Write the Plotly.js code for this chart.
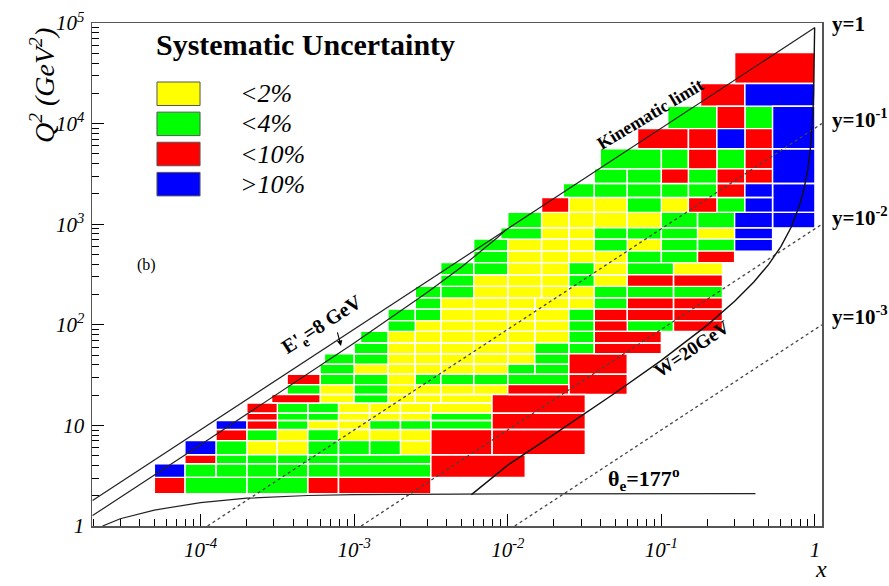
<!DOCTYPE html>
<html>
<head>
<meta charset="utf-8">
<script src="https://cdn.plot.ly/plotly-3.0.1.min.js"></script>
<style>
  html, body { margin: 0; padding: 0; background: #ffffff; }
  #chart { width: 889px; height: 586px; }
</style>
</head>
<body>
<div id="chart"></div>
<script>
// Uncertainty classes and their fill colours
const levelNames  = ['&lt;2%', '&lt;4%', '&lt;10%', '&gt;10%'];
const levelColors = ['#ffff00', '#00ff00', '#ff0000', '#0000ff'];
const Y = 0, G = 1, R = 2, B = 3;

// Q^2 bin boundaries (GeV^2)
const q2Edges = [2.1, 3.04, 4.15, 5.1, 7.05, 9.1, 11.2, 13.2, 16.7, 20.3,
                 25.4, 32.2, 40.5, 51.5, 66, 86, 110, 143, 185, 241,
                 314, 415, 540, 711, 920, 1310, 1840, 2540, 3550, 5630,
                 8920, 14900, 25000, 50800];

// Measurement cells: [x low, x high, lower Q2 edge index, upper Q2 edge index, class]
const cells = [
  // Q2 2.1 - 3.0
  [5.0e-5, 7.9e-5, 0, 1, R], [7.9e-5, 2.0e-4, 0, 1, G], [2.0e-4, 5.0e-4, 0, 1, G],
  [5.0e-4, 7.9e-4, 0, 1, R], [7.9e-4, 3.16e-3, 0, 1, R],
  // 3.0 - 4.2
  [5.0e-5, 7.9e-5, 1, 2, B], [7.9e-5, 1.26e-4, 1, 2, G], [1.26e-4, 2.0e-4, 1, 2, G],
  [2.0e-4, 3.16e-4, 1, 2, G], [3.16e-4, 5.0e-4, 1, 2, G], [5.0e-4, 7.9e-4, 1, 2, G],
  [7.9e-4, 3.16e-3, 1, 2, G], [3.16e-3, 1.3e-2, 1, 3, R],
  // 4.2 - 5.1
  [7.9e-5, 1.26e-4, 2, 3, R], [1.26e-4, 2.0e-4, 2, 3, G], [2.0e-4, 3.16e-4, 2, 3, G],
  [3.16e-4, 5.0e-4, 2, 3, G], [5.0e-4, 7.9e-4, 2, 3, G], [7.9e-4, 3.16e-3, 2, 3, G],
  // 5.1 - 7
  [7.9e-5, 1.26e-4, 3, 4, B], [1.26e-4, 2.0e-4, 3, 4, G], [2.0e-4, 3.16e-4, 3, 4, Y],
  [3.16e-4, 5.0e-4, 3, 4, Y], [5.0e-4, 7.9e-4, 3, 4, G], [7.9e-4, 1.26e-3, 3, 4, G],
  [1.26e-3, 2.0e-3, 3, 4, G], [2.0e-3, 3.16e-3, 3, 4, Y], [3.16e-3, 7.9e-3, 3, 5, R],
  [7.9e-3, 3.2e-2, 3, 5, R],
  // 7 - 9
  [1.26e-4, 2.0e-4, 4, 5, R], [2.0e-4, 3.16e-4, 4, 5, G], [3.16e-4, 5.0e-4, 4, 5, Y],
  [5.0e-4, 7.9e-4, 4, 5, G], [7.9e-4, 1.26e-3, 4, 5, Y], [1.26e-3, 2.0e-3, 4, 5, Y],
  [2.0e-3, 3.16e-3, 4, 5, Y],
  // 9 - 11
  [1.26e-4, 2.0e-4, 5, 6, B], [2.0e-4, 3.16e-4, 5, 6, R], [3.16e-4, 5.0e-4, 5, 6, G],
  [5.0e-4, 7.9e-4, 5, 6, Y], [7.9e-4, 1.26e-3, 5, 6, Y], [1.26e-3, 2.0e-3, 5, 6, G],
  [2.0e-3, 3.16e-3, 5, 6, G], [3.16e-3, 7.9e-3, 5, 6, G], [7.9e-3, 3.2e-2, 5, 7, R],
  // 11 - 13
  [2.0e-4, 3.16e-4, 6, 7, R], [3.16e-4, 5.0e-4, 6, 7, G], [5.0e-4, 7.9e-4, 6, 7, G],
  [7.9e-4, 1.26e-3, 6, 7, Y], [1.26e-3, 2.0e-3, 6, 7, Y], [2.0e-3, 3.16e-3, 6, 7, Y],
  [3.16e-3, 7.9e-3, 6, 7, G],
  // 13 - 17
  [2.0e-4, 3.16e-4, 7, 8, R], [3.16e-4, 5.0e-4, 7, 8, G], [5.0e-4, 7.9e-4, 7, 8, G],
  [7.9e-4, 1.26e-3, 7, 8, Y], [1.26e-3, 2.0e-3, 7, 8, Y], [2.0e-3, 3.16e-3, 7, 8, Y],
  [3.16e-3, 7.9e-3, 7, 8, Y], [7.9e-3, 3.2e-2, 7, 9, R],
  // 17 - 20
  [2.9e-4, 6.0e-4, 8, 9, R], [6.0e-4, 1.0e-3, 8, 9, Y], [1.0e-3, 1.66e-3, 8, 9, G],
  [1.66e-3, 2.5e-3, 8, 9, Y], [2.5e-3, 3.66e-3, 8, 9, Y], [3.66e-3, 7.9e-3, 8, 9, Y],
  // 20 - 25
  [3.66e-4, 6.0e-4, 9, 10, G], [6.0e-4, 1.0e-3, 9, 10, Y], [1.0e-3, 1.66e-3, 9, 10, G],
  [1.66e-3, 2.5e-3, 9, 10, Y], [2.5e-3, 3.66e-3, 9, 10, Y], [3.66e-3, 6.0e-3, 9, 10, Y],
  [6.0e-3, 1.0e-2, 9, 10, Y], [1.0e-2, 2.5e-2, 9, 10, R], [2.5e-2, 6.0e-2, 9, 11, R],
  // 25 - 32
  [3.66e-4, 6.0e-4, 10, 11, R], [6.0e-4, 1.0e-3, 10, 11, G], [1.0e-3, 1.66e-3, 10, 11, G],
  [1.66e-3, 2.5e-3, 10, 11, Y], [2.5e-3, 3.66e-3, 10, 11, G], [3.66e-3, 6.0e-3, 10, 11, G],
  [6.0e-3, 1.0e-2, 10, 11, G], [1.0e-2, 2.5e-2, 10, 11, G],
  // 32 - 40
  [6.0e-4, 1.0e-3, 11, 12, G], [1.0e-3, 1.66e-3, 11, 12, Y], [1.66e-3, 2.5e-3, 11, 12, Y],
  [2.5e-3, 3.66e-3, 11, 12, Y], [3.66e-3, 6.0e-3, 11, 12, Y], [6.0e-3, 1.0e-2, 11, 12, Y],
  [1.0e-2, 1.5e-2, 11, 12, G], [1.5e-2, 2.5e-2, 11, 12, G], [2.5e-2, 6.0e-2, 11, 13, R],
  // 40 - 51
  [6.4e-4, 1.0e-3, 12, 13, G], [1.0e-3, 1.66e-3, 12, 13, G], [1.66e-3, 2.5e-3, 12, 13, Y],
  [2.5e-3, 3.66e-3, 12, 13, Y], [3.66e-3, 6.0e-3, 12, 13, Y], [6.0e-3, 1.0e-2, 12, 13, Y],
  [1.0e-2, 1.5e-2, 12, 13, Y], [1.5e-2, 2.5e-2, 12, 13, G],
  // 51 - 66
  [1.0e-3, 1.66e-3, 13, 14, G], [1.66e-3, 2.5e-3, 13, 14, Y], [2.5e-3, 3.66e-3, 13, 14, Y],
  [3.66e-3, 6.0e-3, 13, 14, Y], [6.0e-3, 1.0e-2, 13, 14, Y], [1.0e-2, 1.5e-2, 13, 14, Y],
  [1.5e-2, 2.5e-2, 13, 14, G], [2.5e-2, 3.66e-2, 13, 14, G], [3.66e-2, 0.1, 13, 14, R],
  // 66 - 86
  [1.1e-3, 1.66e-3, 14, 15, G], [1.66e-3, 2.5e-3, 14, 15, Y], [2.5e-3, 3.66e-3, 14, 15, Y],
  [3.66e-3, 6.0e-3, 14, 15, Y], [6.0e-3, 1.0e-2, 14, 15, Y], [1.0e-2, 1.5e-2, 14, 15, Y],
  [1.5e-2, 2.5e-2, 14, 15, Y], [2.5e-2, 3.66e-2, 14, 15, G], [3.66e-2, 0.1, 14, 15, R],
  // 86 - 110
  [1.66e-3, 2.5e-3, 15, 16, G], [2.5e-3, 3.66e-3, 15, 16, Y], [3.66e-3, 6.0e-3, 15, 16, Y],
  [6.0e-3, 1.0e-2, 15, 16, Y], [1.0e-2, 1.5e-2, 15, 16, Y], [1.5e-2, 2.5e-2, 15, 16, Y],
  [2.5e-2, 3.66e-2, 15, 16, G], [3.66e-2, 6.0e-2, 15, 16, R], [6.0e-2, 0.12, 15, 16, G],
  [0.12, 0.25, 15, 16, R],
  // 110 - 143
  [1.66e-3, 2.5e-3, 16, 17, G], [2.5e-3, 3.66e-3, 16, 17, G], [3.66e-3, 6.0e-3, 16, 17, Y],
  [6.0e-3, 1.0e-2, 16, 17, Y], [1.0e-2, 1.5e-2, 16, 17, Y], [1.5e-2, 2.5e-2, 16, 17, Y],
  [2.5e-2, 3.66e-2, 16, 17, G], [3.66e-2, 6.0e-2, 16, 17, R], [6.0e-2, 0.12, 16, 17, R],
  [0.12, 0.25, 16, 17, R],
  // 143 - 185
  [2.5e-3, 3.66e-3, 17, 18, G], [3.66e-3, 6.0e-3, 17, 18, Y], [6.0e-3, 1.0e-2, 17, 18, Y],
  [1.0e-2, 1.5e-2, 17, 18, Y], [1.5e-2, 2.5e-2, 17, 18, Y], [2.5e-2, 3.66e-2, 17, 18, Y],
  [3.66e-2, 6.0e-2, 17, 18, G], [6.0e-2, 0.12, 17, 18, R], [0.12, 0.25, 17, 18, R],
  // 185 - 241
  [2.5e-3, 3.66e-3, 18, 19, G], [3.66e-3, 6.0e-3, 18, 19, G], [6.0e-3, 1.0e-2, 18, 19, Y],
  [1.0e-2, 1.66e-2, 18, 19, Y], [1.66e-2, 2.5e-2, 18, 19, Y], [2.5e-2, 3.66e-2, 18, 19, Y],
  [3.66e-2, 6.0e-2, 18, 19, G], [6.0e-2, 0.12, 18, 19, G], [0.12, 0.25, 18, 19, G],
  // 241 - 314
  [3.66e-3, 6.0e-3, 19, 20, G], [6.0e-3, 1.0e-2, 19, 20, Y], [1.0e-2, 1.66e-2, 19, 20, Y],
  [1.66e-2, 2.5e-2, 19, 20, Y], [2.5e-2, 3.66e-2, 19, 20, G], [3.66e-2, 6.0e-2, 19, 20, Y],
  [6.0e-2, 0.12, 19, 20, R], [0.12, 0.25, 19, 20, R],
  // 314 - 415
  [3.66e-3, 6.0e-3, 20, 21, G], [6.0e-3, 1.0e-2, 20, 21, G], [1.0e-2, 1.66e-2, 20, 21, Y],
  [1.66e-2, 2.5e-2, 20, 21, Y], [2.5e-2, 3.66e-2, 20, 21, G], [3.66e-2, 6.0e-2, 20, 21, Y],
  [6.0e-2, 0.12, 20, 21, G], [0.12, 0.25, 20, 21, Y],
  // 415 - 540
  [6.0e-3, 1.0e-2, 21, 22, G], [1.0e-2, 1.66e-2, 21, 22, Y], [1.66e-2, 2.5e-2, 21, 22, Y],
  [2.5e-2, 3.66e-2, 21, 22, Y], [3.66e-2, 6.0e-2, 21, 22, Y], [6.0e-2, 0.1, 21, 22, G],
  [0.1, 0.172, 21, 22, G], [0.172, 0.30, 21, 22, R],
  // 540 - 711
  [6.0e-3, 1.0e-2, 22, 23, G], [1.0e-2, 1.66e-2, 22, 23, Y], [1.66e-2, 2.5e-2, 22, 23, Y],
  [2.5e-2, 3.66e-2, 22, 23, Y], [3.66e-2, 6.0e-2, 22, 23, G], [6.0e-2, 0.1, 22, 23, Y],
  [0.1, 0.172, 22, 23, G], [0.172, 0.30, 22, 23, G], [0.30, 0.53, 22, 23, B],
  // 711 - 920
  [9.0e-3, 1.66e-2, 23, 24, G], [1.66e-2, 2.5e-2, 23, 24, Y], [2.5e-2, 3.66e-2, 23, 24, Y],
  [3.66e-2, 6.0e-2, 23, 24, G], [6.0e-2, 0.1, 23, 24, G], [0.1, 0.172, 23, 24, G],
  [0.172, 0.30, 23, 24, Y], [0.30, 0.53, 23, 24, B],
  // 920 - 1310
  [1.0e-2, 1.66e-2, 24, 25, G], [1.66e-2, 2.5e-2, 24, 25, Y], [2.5e-2, 3.66e-2, 24, 25, Y],
  [3.66e-2, 6.0e-2, 24, 25, Y], [6.0e-2, 0.1, 24, 25, Y], [0.1, 0.172, 24, 25, G],
  [0.172, 0.30, 24, 25, G], [0.30, 0.53, 24, 25, B], [0.53, 1.0, 24, 25, B],
  // 1310 - 1840
  [1.66e-2, 2.5e-2, 25, 26, R], [2.5e-2, 3.66e-2, 25, 26, Y], [3.66e-2, 6.0e-2, 25, 26, Y],
  [6.0e-2, 0.1, 25, 26, G], [0.1, 0.15, 25, 26, Y], [0.15, 0.23, 25, 26, R],
  [0.23, 0.35, 25, 26, G], [0.35, 0.53, 25, 26, B], [0.53, 1.0, 25, 27, B],
  // 1840 - 2540
  [2.3e-2, 3.66e-2, 26, 27, G], [3.66e-2, 6.0e-2, 26, 27, G], [6.0e-2, 0.1, 26, 27, G],
  [0.1, 0.15, 26, 27, G], [0.15, 0.23, 26, 27, G], [0.23, 0.35, 26, 27, R],
  [0.35, 0.53, 26, 27, B],
  // 2540 - 3550
  [3.66e-2, 6.0e-2, 27, 28, G], [6.0e-2, 0.1, 27, 28, G], [0.1, 0.15, 27, 28, R],
  [0.15, 0.23, 27, 28, G], [0.23, 0.35, 27, 28, R], [0.35, 0.53, 27, 28, R],
  [0.53, 1.0, 27, 29, B],
  // 3550 - 5630
  [4.0e-2, 0.1, 28, 29, G], [0.1, 0.15, 28, 29, G], [0.15, 0.23, 28, 29, R],
  [0.23, 0.35, 28, 29, G], [0.35, 0.53, 28, 29, R],
  // 5630 - 8920
  [7.0e-2, 0.15, 29, 30, R], [0.15, 0.23, 29, 30, R], [0.23, 0.35, 29, 30, B],
  [0.35, 0.53, 29, 30, R], [0.53, 1.0, 29, 31, B],
  // 8920 - 14900
  [0.11, 0.23, 30, 31, G], [0.23, 0.35, 30, 31, R], [0.35, 0.53, 30, 31, G],
  // 14900 - 25000
  [0.18, 0.35, 31, 32, R], [0.35, 1.0, 31, 32, B],
  // 25000 - 50800
  [0.30, 1.0, 32, 33, R]
];

// Kinematic lines (x, Q2)
const yOneX   = [1.98e-5, 1.0];            const yOneQ2   = [1.79, 90200];
const yTenthX = [1.11e-4, 1.11];           const yTenthQ2 = [1, 10000];
const yHundX  = [1.11e-3, 1.11];           const yHundQ2  = [1, 1000];
const yThouX  = [1.11e-2, 1.11];           const yThouQ2  = [1, 100];
const eprimeX  = [1.98e-5, 1e-4, 1e-3, 3e-3, 5e-3, 7e-3, 8.5e-3, 9.76e-3];
const eprimeQ2 = [1.27, 6.42, 65.9, 210.7, 376, 566, 728, 880];
const wLineX  = [0.0058, 0.01, 0.02, 0.05, 0.1, 0.2, 0.3, 0.4, 0.5, 0.6, 0.7, 0.8, 0.85,
                 0.9, 0.93, 0.95, 0.97, 0.98, 0.99, 0.9956];
const wLineQ2 = [2.05, 4.03, 8.14, 21.0, 44.3, 99.8, 171, 266, 399, 599, 931, 1596, 2261,
                 3591, 5301, 7581, 12901, 19551, 39501, 89800];
const thetaX  = [2.3e-5, 3e-5, 5e-5, 1e-4, 2e-4, 5e-4, 1e-3, 3e-3, 1e-2, 0.41];
const thetaQ2 = [1.0, 1.18, 1.44, 1.71, 1.89, 2.01, 2.05, 2.08, 2.09, 2.1];

// Axis ticks
const xMajor = [1e-4, 1e-3, 1e-2, 1e-1, 1];
const xMajorText = ['10<sup>-4</sup>', '10<sup>-3</sup>', '10<sup>-2</sup>', '10<sup>-1</sup>', '1'];
const q2Major = [1, 10, 100, 1000, 10000, 100000];
const q2MajorText = ['1', '10', '10<sup>2</sup>', '10<sup>3</sup>', '10<sup>4</sup>', '10<sup>5</sup>'];

function minorTicks(d0, d1) {
  const v = [];
  for (let d = d0; d < d1; d++) for (let m = 2; m <= 9; m++) v.push(m * Math.pow(10, d));
  return v;
}

const SERIF = 'Liberation Serif, Times New Roman, serif';

// One filled trace per uncertainty class; every cell is a closed rectangle
const cellTraces = levelColors.map((col, lev) => {
  const xs = [], ys = [];
  cells.filter(c => c[4] === lev).forEach(c => {
    const q0 = q2Edges[c[2]], q1 = q2Edges[c[3]];
    xs.push(c[0], c[1], c[1], c[0], c[0], null);
    ys.push(q0, q0, q1, q1, q0, null);
  });
  return {
    type: 'scatter', mode: 'lines', x: xs, y: ys,
    fill: 'toself', fillcolor: col,
    line: { color: '#ffffff', width: 1.4 },
    hoverinfo: 'skip', showlegend: false
  };
});

function lineTrace(x, y, dash, color, width) {
  return { type: 'scatter', mode: 'lines', x: x, y: y, showlegend: false, hoverinfo: 'skip',
           line: { color: color, width: width, dash: dash } };
}

const lineTraces = [
  lineTrace(yTenthX, yTenthQ2, 'dot', '#444', 1.3),
  lineTrace(yHundX, yHundQ2, 'dot', '#444', 1.3),
  lineTrace(yThouX, yThouQ2, 'dot', '#444', 1.3),
  lineTrace(yOneX, yOneQ2, 'solid', '#222', 1.2),
  lineTrace(eprimeX, eprimeQ2, 'solid', '#222', 1.2),
  lineTrace(wLineX, wLineQ2, 'solid', '#111', 1.4),
  lineTrace(thetaX, thetaQ2, 'solid', '#222', 1.2)
];

// Legend block placed in paper fractions
const legendTop = 0.8827, legendStep = 0.0599, legendBoxH = 0.0467;
const legendShapes = levelColors.map((col, i) => ({
  type: 'rect', xref: 'paper', yref: 'paper',
  x0: 0.089, x1: 0.148,
  y0: legendTop - i * legendStep - legendBoxH, y1: legendTop - i * legendStep,
  fillcolor: col, line: { color: '#555555', width: 1 }
}));
const legendLabels = levelNames.map((t, i) => ({
  xref: 'paper', yref: 'paper', x: 0.2000, y: legendTop - i * legendStep - legendBoxH / 2,
  xanchor: 'left', yanchor: 'middle', showarrow: false,
  text: '<i>' + t + '</i>', font: { family: SERIF, size: 26, color: '#000' }
}));

function note(text, x, y, size, angle, xanchor, yanchor) {
  return { xref: 'paper', yref: 'paper', x: x, y: y, text: text, showarrow: false,
           xanchor: xanchor || 'center', yanchor: yanchor || 'middle', textangle: angle || 0,
           font: { family: SERIF, size: size, color: '#000' } };
}

const annotations = [
  note('<b>Systematic Uncertainty</b>', 0.0850, 0.9563, 30, 0, 'left'),
  ...legendLabels,
  note('(b)', 0.074, 0.519, 16),
  note('<b>Kinematic limit</b>', 0.7650, 0.8190, 18, -31),
  note("<b>E'<sub>e</sub>=8 GeV</b>", 0.3151, 0.3990, 20, -33),
  note('<b>W=20GeV</b>', 0.8219, 0.3519, 19, -34),
  note('<b>θ<sub>e</sub>=177<sup>o</sup></b>', 0.7560, 0.0950, 22),
  note('<b>y=1</b>', 1.011, 0.998, 21, 0, 'left'),
  note('<b>y=10<sup>-1</sup></b>', 1.011, 0.810, 21, 0, 'left'),
  note('<b>y=10<sup>-2</sup></b>', 1.011, 0.615, 21, 0, 'left'),
  note('<b>y=10<sup>-3</sup></b>', 1.011, 0.418, 21, 0, 'left'),
  note('<i>Q<sup>2</sup> (GeV<sup>2</sup>)</i>', -0.0671, 0.8748, 28, -90),
  note('<i>x</i>', 0.9990, -0.1150, 24, 0, 'center', 'bottom'),
  { xref: 'paper', yref: 'paper', x: 0.3411, y: 0.3579, ax: -4, ay: -15, text: '',
    showarrow: true, arrowhead: 2, arrowsize: 1, arrowwidth: 1.1, arrowcolor: '#000' }
];

const axisCommon = {
  type: 'log', showgrid: false, zeroline: false,
  showline: true, linecolor: '#555555', linewidth: 1.5, mirror: true,
  ticks: 'inside', ticklen: 12, tickwidth: 1, tickcolor: '#000',
  tickmode: 'array', tickfont: { family: SERIF, size: 21, color: '#000' }
};

const layout = {
  width: 889, height: 586,
  margin: { l: 92, r: 67, t: 23, b: 60 },
  paper_bgcolor: '#ffffff', plot_bgcolor: '#ffffff',
  showlegend: false,
  xaxis: Object.assign({}, axisCommon, {
    range: [-4.707, 0.046],
    tickvals: xMajor, ticktext: xMajorText.map(t => '<i>' + t + '</i>'),
    ticklabelstandoff: 4,
    minor: { tickmode: 'array', tickvals: minorTicks(-5, 0), ticks: 'inside', ticklen: 7, tickcolor: '#000', tickwidth: 1 }
  }),
  yaxis: Object.assign({}, axisCommon, {
    range: [0, 5],
    tickvals: q2Major, ticktext: q2MajorText.map(t => '<i>' + t + '</i>'),
    ticklabelstandoff: 2,
    minor: { tickmode: 'array', tickvals: minorTicks(0, 5), ticks: 'inside', ticklen: 7, tickcolor: '#000', tickwidth: 1 }
  }),
  shapes: legendShapes,
  annotations: annotations
};

Plotly.newPlot('chart', cellTraces.concat(lineTraces), layout, { displayModeBar: false, staticPlot: true });
</script>
</body>
</html>
